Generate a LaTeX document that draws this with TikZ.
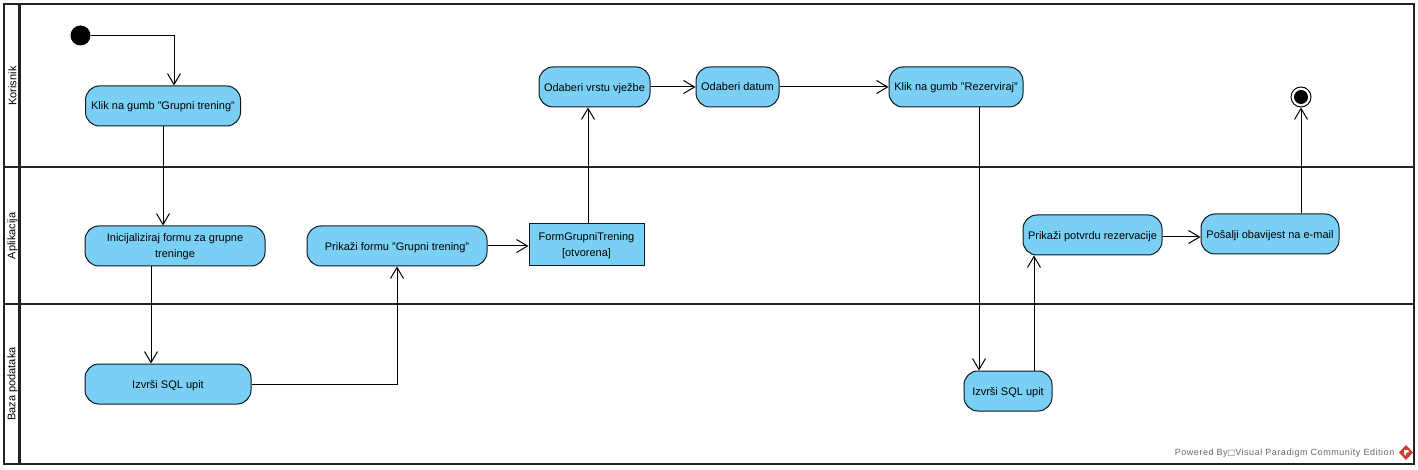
\documentclass[tikz,border=0pt]{standalone}
\usepackage{fontspec}
\setmainfont{Liberation Sans}
\newfontfamily\boxfont{DejaVu Sans}
\newfontfamily\footfont[LetterSpace=6]{Liberation Sans}
\usetikzlibrary{arrows.meta,calc,positioning}
\definecolor{FlowInk}{HTML}{101820}
\definecolor{FlowLane}{HTML}{222222}
\definecolor{FlowFill}{HTML}{7ACFF5}
\definecolor{FlowMuted}{HTML}{666666}
\definecolor{FlowLogo}{HTML}{C8402F}
\tikzset{
  every node/.style={font=\fontsize{11}{16}\selectfont, text=black, inner sep=0pt},
  action/.style={draw=FlowInk, line width=1pt, fill=FlowFill, rounded corners=14pt, align=center, text depth=0pt},
  objectbox/.style={draw=FlowInk, line width=1pt, fill=FlowFill, align=center, text depth=0pt},
  lane/.style={draw=FlowLane, line width=2.2pt},
  flow/.style={-{Straight Barb[length=11pt,width=13pt,line width=1pt]}, draw=black, line width=1pt},
}
\begin{document}
\begin{tikzpicture}[x=1pt,y=-1pt]
  \useasboundingbox (0,0) rectangle (1418,470);
  \fill[white] (0,0) rectangle (1418,470);
  \draw[lane] (4,4) rectangle (1414,464);
  \draw[lane] (19.5,4) -- (19.5,464);
  \foreach \y in {167,304}
    \draw[lane] (4,\y) -- (1414,\y);
  \node[rotate=90] (laneKorisnik) at (12.5,86) {Korisnik};
  \node[rotate=90] (laneAplikacija) at (12.5,236) {Aplikacija};
  \node[rotate=90] (laneBaza) at (12.5,384) {Baza podataka};

  \node[circle, fill=black, minimum size=20pt] (start) at (80.5,35.5) {};
  \node[action, minimum width=155pt, minimum height=40pt] (klikGrupni) at (163,106) {Klik na gumb "Grupni trening"};
  \node[action, minimum width=180pt, minimum height=40pt] (initForma) at (175,246) {Inicijaliziraj formu za grupne\\treninge};
  \node[action, minimum width=166pt, minimum height=40pt] (upitForma) at (168,384) {Izvrši SQL upit};
  \node[action, minimum width=180pt, minimum height=40pt] (prikaziForma) at (397,246) {Prikaži formu "Grupni trening"};
  \node[objectbox, minimum width=115pt, minimum height=42pt] (formObjekt) at (586.5,245) {FormGrupniTrening\\{[otvorena]}};
  \node[action, minimum width=111pt, minimum height=40pt] (odaberiVrstu) at (594.5,87) {Odaberi vrstu vježbe};
  \node[action, minimum width=83pt, minimum height=40pt] (odaberiDatum) at (737.5,87) {Odaberi datum};
  \node[action, minimum width=134pt, minimum height=40pt] (klikRezerviraj) at (956,87) {Klik na gumb "Rezerviraj"};
  \node[action, minimum width=88pt, minimum height=40pt] (upitRezervacija) at (1008,391) {Izvrši SQL upit};
  \node[action, minimum width=139pt, minimum height=40pt] (prikaziPotvrdu) at (1092.5,235) {Prikaži potvrdu rezervacije};
  \node[action, minimum width=138pt, minimum height=40pt] (posaljiMail) at (1270,234) {Pošalji obavijest na e-mail};
  \node[circle, draw=black, line width=1pt, fill=white, minimum size=20pt] (endRing) at (1301,97) {};
  \node[circle, fill=black, minimum size=14pt] (endDot) at (endRing) {};

  \draw[flow] (start.east) -| ([xshift=11pt]klikGrupni.north);
  \draw[flow] (klikGrupni.south) -- (klikGrupni.south |- initForma.north);
  \draw[flow] ([xshift=-24pt]initForma.south) -- ([xshift=-24pt]initForma.south |- upitForma.north);
  \draw[flow] (upitForma.east) -| (prikaziForma.south);
  \draw[flow] (prikaziForma.east) -- (prikaziForma.east -| formObjekt.west);
  \draw[flow] ([xshift=1.5pt]formObjekt.north) -- ([xshift=1.5pt]formObjekt.north |- odaberiVrstu.south);
  \draw[flow] (odaberiVrstu.east) -- (odaberiDatum.west);
  \draw[flow] (odaberiDatum.east) -- (klikRezerviraj.west);
  \draw[flow] ([xshift=23pt]klikRezerviraj.south) -- ([xshift=23pt]klikRezerviraj.south |- upitRezervacija.north);
  \draw[flow] ([xshift=26pt]upitRezervacija.north) -- ([xshift=26pt]upitRezervacija.north |- prikaziPotvrdu.south);
  \draw[flow] ([yshift=-2pt]prikaziPotvrdu.east) -- ([yshift=-2pt]prikaziPotvrdu.east -| posaljiMail.west);
  \draw[flow] ([xshift=31pt]posaljiMail.north) -- (endRing.south);

  \node[anchor=east, text=FlowMuted, font=\footfont\fontsize{9}{11}\selectfont] (footer) at (1394.5,453.5) {Powered By{\boxfont\fontsize{8}{11}\selectfont □}Visual Paradigm Community Edition};
  \fill[FlowLogo] (1406,445) -- (1413,452.5) -- (1406,460) -- (1399,452.5) -- cycle;
  \fill[white] (1404,450) -- (1408,450) -- (1409,452) -- (1406,453) -- (1406,456) -- (1404,454) -- cycle;
\end{tikzpicture}
\end{document}
